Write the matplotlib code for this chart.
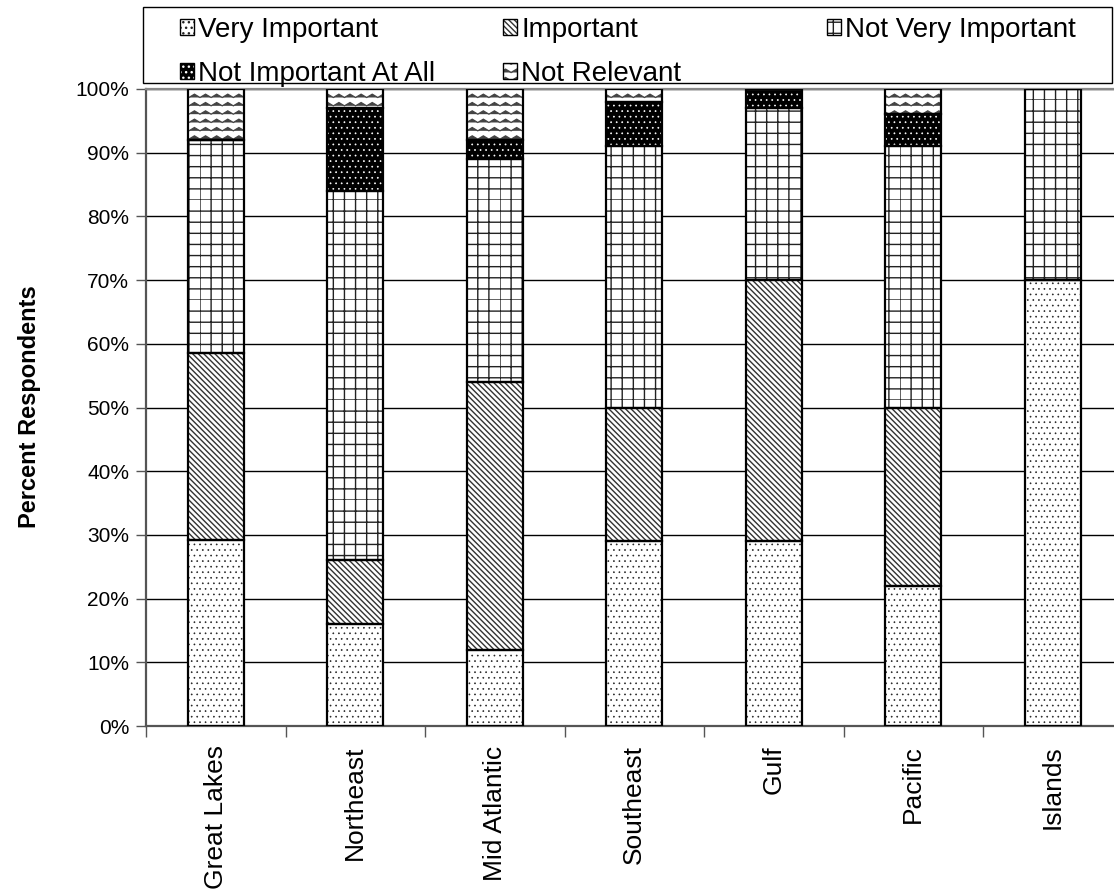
import warnings
import numpy as np
import matplotlib
matplotlib.use("Agg")
import matplotlib.pyplot as plt
import matplotlib.hatch as mhatch
from matplotlib.path import Path
from matplotlib.patches import Patch, Rectangle

warnings.filterwarnings("ignore")

categories = ["Great Lakes", "Northeast", "Mid Atlantic", "Southeast", "Gulf", "Pacific", "Islands"]
very_important = [29.2, 16, 12, 29, 29, 22, 70]
important = [29.3, 10, 42, 21, 41, 28, 0]
not_very_important = [33.5, 58, 35, 41, 27, 41, 30]
not_important_at_all = [0, 13, 3, 7, 3, 5, 0]
not_relevant = [8, 3, 8, 2, 0, 4, 0]
y_ticks = [0, 10, 20, 30, 40, 50, 60, 70, 80, 90, 100]


class WaveHatch(mhatch.HatchPatternBase):
    # zigzag lines for the '~' hatch character
    def __init__(self, hatch, density):
        self.num_lines = int(hatch.count("~") * density)
        self.waves = 9
        self.num_vertices = self.num_lines * (2 * self.waves + 1)

    def set_vertices_and_codes(self, vertices, codes):
        n = 2 * self.waves + 1
        xs = np.linspace(0, 1, n)
        amp = 0.2 / self.num_lines
        sign = np.where(np.arange(n) % 2 == 0, -1.0, 1.0)
        for i in range(self.num_lines):
            y0 = (i + 0.5) / self.num_lines
            vertices[i * n:(i + 1) * n, 0] = xs
            vertices[i * n:(i + 1) * n, 1] = y0 + amp * sign
            codes[i * n:(i + 1) * n] = Path.LINETO
            codes[i * n] = Path.MOVETO


class GridHatch(mhatch.HatchPatternBase):
    # square grid, 9 cells per inch for each '#'
    def __init__(self, hatch, density):
        self.num_lines = int(hatch.count("#") * 9)
        self.num_vertices = self.num_lines * 4

    def set_vertices_and_codes(self, vertices, codes):
        steps = np.linspace(0, 1, self.num_lines, endpoint=False)
        k = self.num_lines
        vertices[0:2 * k:2, 0] = 0.0
        vertices[0:2 * k:2, 1] = steps
        vertices[1:2 * k:2, 0] = 1.0
        vertices[1:2 * k:2, 1] = steps
        vertices[2 * k::2, 0] = steps
        vertices[2 * k::2, 1] = 0.0
        vertices[2 * k + 1::2, 0] = steps
        vertices[2 * k + 1::2, 1] = 1.0
        codes[0::2] = Path.MOVETO
        codes[1::2] = Path.LINETO


mhatch._hatch_types.append(WaveHatch)
mhatch._hatch_types.append(GridHatch)

plt.rcParams["font.family"] = ["Liberation Sans", "DejaVu Sans"]

fig = plt.figure(figsize=(11.14, 8.94), dpi=100)
ax = fig.add_axes([146 / 1114, 1 - 726 / 894, 976.5 / 1114, 637 / 894])

x = np.arange(len(categories))
width = 0.4

# (label, values, facecolor, hatch colour, hatch, hatch linewidth)
series = [
    ("Very Important", very_important, "white", "#222222", "...", 0.45),
    ("Important", important, "white", "#333333", "\\\\\\\\\\\\", 1.0),
    ("Not Very Important", not_very_important, "white", "#222222", "#", 1.0),
    ("Not Important At All", not_important_at_all, "black", "white", "...", 0.5),
    ("Not Relevant", not_relevant, "white", "#444444", "~~", 0.9),
]

handles = {}
bottom = np.zeros(len(categories))
for label, vals, face, hcol, hatch, hlw in series:
    vals = np.array(vals, dtype=float)
    with plt.rc_context({"hatch.linewidth": hlw}):
        bars = ax.bar(x, vals, width, bottom=bottom, color=face, edgecolor=hcol,
                      hatch=hatch, linewidth=0, zorder=2)
        for b in bars:
            if hasattr(b, "set_hatch_linewidth"):
                b.set_hatch_linewidth(hlw)
        hpatch = Patch(facecolor=face, edgecolor=hcol, hatch=hatch, linewidth=0)
        if hasattr(hpatch, "set_hatch_linewidth"):
            hpatch.set_hatch_linewidth(hlw)
    ax.bar(x, vals, width, bottom=bottom, fill=False, edgecolor="black",
           linewidth=1.6, zorder=3)
    bottom += vals
    handles[label] = (hpatch, Patch(fill=False, edgecolor="black", linewidth=1.0))

ax.set_xlim(-0.5, len(categories) - 0.5)
ax.set_ylim(0, 100)
ax.set_yticks(y_ticks)
ax.set_yticklabels([f"{t}%" for t in y_ticks], fontsize=15)
ax.yaxis.grid(True, color="black", linewidth=1.0)
ax.set_axisbelow(True)

ax.set_xticks(np.arange(len(categories) + 1) - 0.5)
ax.set_xticklabels([])
ax.set_xticks(x, minor=True)
ax.set_xticklabels(categories, minor=True, rotation=90, fontsize=19, va="top")
ax.tick_params(axis="x", which="major", length=8, width=1, color="#555555", direction="out")
ax.tick_params(axis="x", which="minor", length=0, pad=14)
ax.tick_params(axis="y", length=7, width=1, color="#555555", pad=5)

for side in ["left", "bottom"]:
    ax.spines[side].set_color("#555555")
    ax.spines[side].set_linewidth(1.6)
ax.spines["top"].set_color("#888888")
ax.spines["top"].set_linewidth(1.6)
ax.spines["right"].set_visible(False)

fig.text(30 / 1114, 0.545, "Percent Respondents", rotation=90, ha="center", va="center",
         fontsize=17, fontweight="bold")

# legend frame plus three columns laid out like the original
fig.patches.append(Rectangle((143 / 1114, 1 - 83 / 894), 969 / 1114, 76 / 894,
                             transform=fig.transFigure, fill=False,
                             edgecolor="black", linewidth=1.0))
columns = [(180, ["Very Important", "Not Important At All"]),
           (503, ["Important", "Not Relevant"]),
           (827, ["Not Very Important"])]
for xpos, labels in columns:
    fig.legend([handles[l] for l in labels], labels, loc="upper left",
               bbox_to_anchor=(xpos / 1114, 1 - 17 / 894), frameon=False,
               fontsize=20, borderpad=0, borderaxespad=0, handlelength=0.5,
               handleheight=0.5, handletextpad=0.15, labelspacing=0.65)

fig.savefig("out.png", dpi=100)
